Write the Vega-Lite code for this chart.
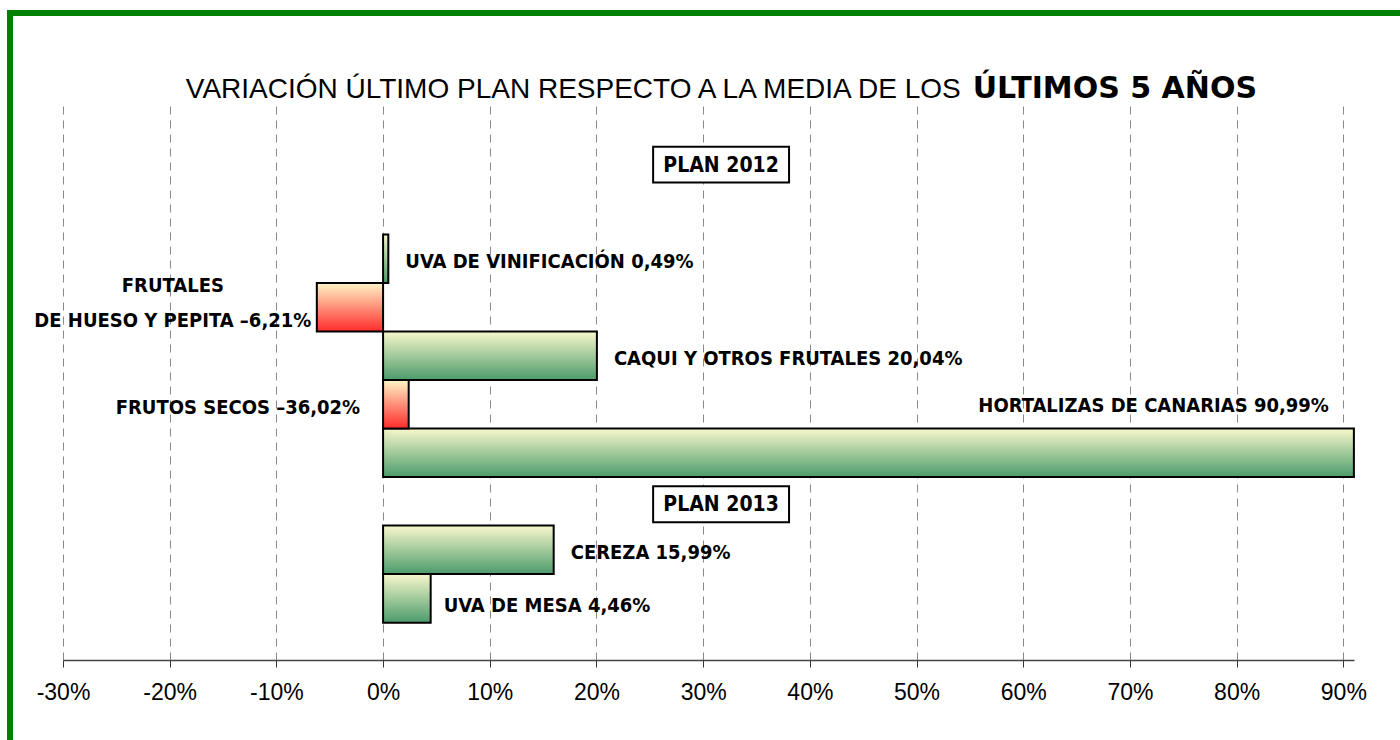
{
  "$schema": "https://vega.github.io/schema/vega-lite/v6.json",
  "width": 1291,
  "height": 560,
  "autosize": {"type": "none"},
  "padding": {"left": 63, "top": 100, "right": 46, "bottom": 80},
  "background": "white",
  "config": {"view": {"stroke": null}, "font": "Liberation Sans"},
  "datasets": {
    "cultivos": [
      {"cultivo": "UVA DE VINIFICACIÓN", "plan": "PLAN 2012", "variacion": 0.49, "barra": 0.49, "etiqueta": "UVA DE VINIFICACIÓN 0,49%"},
      {"cultivo": "FRUTALES DE HUESO Y PEPITA", "plan": "PLAN 2012", "variacion": -6.21, "barra": -6.21, "etiqueta": "FRUTALES\nDE HUESO Y PEPITA –6,21%"},
      {"cultivo": "CAQUI Y OTROS FRUTALES", "plan": "PLAN 2012", "variacion": 20.04, "barra": 20.04, "etiqueta": "CAQUI Y OTROS FRUTALES 20,04%"},
      {"cultivo": "FRUTOS SECOS", "plan": "PLAN 2012", "variacion": -36.02, "barra": 2.4, "etiqueta": "FRUTOS SECOS –36,02%"},
      {"cultivo": "HORTALIZAS DE CANARIAS", "plan": "PLAN 2012", "variacion": 90.99, "barra": 90.99, "etiqueta": "HORTALIZAS DE CANARIAS 90,99%"},
      {"cultivo": "CEREZA", "plan": "PLAN 2013", "variacion": 15.99, "barra": 15.99, "etiqueta": "CEREZA 15,99%"},
      {"cultivo": "UVA DE MESA", "plan": "PLAN 2013", "variacion": 4.46, "barra": 4.46, "etiqueta": "UVA DE MESA 4,46%"}
    ],
    "planes": [{"plan": "PLAN 2012"}, {"plan": "PLAN 2013"}],
    "titulo": [{"titulo": "VARIACIÓN ÚLTIMO PLAN RESPECTO A LA MEDIA DE LOS", "destacado": "ÚLTIMOS 5 AÑOS"}]
  },
  "resolve": {"scale": {"y": "independent"}},
  "layer": [
    {
      "layer": [
        {
          "data": {"name": "cultivos"},
          "transform": [{"filter": "datum.variacion >= 0"}],
          "mark": {"type": "bar", "stroke": "#000", "strokeWidth": 2,
            "fill": {"gradient": "linear", "x1": 0, "y1": 0, "x2": 0, "y2": 1,
              "stops": [{"offset": 0, "color": "#f8f8cc"}, {"offset": 1, "color": "#4b9b6b"}]}},
          "encoding": {
            "y": {"field": "cultivo", "type": "nominal", "axis": null,
              "scale": {"domain": ["PLAN 2012", "_esp", "UVA DE VINIFICACIÓN", "FRUTALES DE HUESO Y PEPITA", "CAQUI Y OTROS FRUTALES", "FRUTOS SECOS", "HORTALIZAS DE CANARIAS", "PLAN 2013", "CEREZA", "UVA DE MESA"], "paddingInner": 0, "paddingOuter": 0.77}},
            "x": {"field": "barra", "type": "quantitative",
              "scale": {"domain": [-30, 91], "nice": false, "zero": false},
              "axis": {"values": [-30, -20, -10, 0, 10, 20, 30, 40, 50, 60, 70, 80, 90],
                "labelExpr": "datum.value + '%'", "title": null,
                "grid": true, "gridDash": [8, 6], "gridColor": "#8a8a8a", "gridWidth": 1,
                "domainColor": "#444", "domainWidth": 1.5, "tickColor": "#333", "tickSize": 7,
                "labelFontSize": 23, "labelFont": "Liberation Sans", "labelColor": "#000",
                "labelPadding": 14, "labelFlush": false, "labelOverlap": false}}
          }
        },
        {
          "data": {"name": "cultivos"},
          "transform": [{"filter": "datum.variacion < 0"}],
          "mark": {"type": "bar", "stroke": "#000", "strokeWidth": 2,
            "fill": {"gradient": "linear", "x1": 0, "y1": 0, "x2": 0, "y2": 1,
              "stops": [{"offset": 0, "color": "#fff5c6"}, {"offset": 1, "color": "#ff2b2b"}]}},
          "encoding": {
            "y": {"field": "cultivo", "type": "nominal", "axis": null,
              "scale": {"domain": ["PLAN 2012", "_esp", "UVA DE VINIFICACIÓN", "FRUTALES DE HUESO Y PEPITA", "CAQUI Y OTROS FRUTALES", "FRUTOS SECOS", "HORTALIZAS DE CANARIAS", "PLAN 2013", "CEREZA", "UVA DE MESA"], "paddingInner": 0, "paddingOuter": 0.77}},
            "x": {"field": "barra", "type": "quantitative"}
          }
        },
        {
          "data": {"name": "cultivos"},
          "transform": [{"filter": "indexof(['UVA DE VINIFICACIÓN','CAQUI Y OTROS FRUTALES','CEREZA'], datum.cultivo) >= 0"}],
          "mark": {"type": "text", "align": "left", "baseline": "middle", "dx": 17, "dy": 3,
            "font": "DejaVu Sans Condensed, Roboto, sans-serif", "fontWeight": "bold", "fontSize": 20, "color": "#000"},
          "encoding": {
            "y": {"field": "cultivo", "type": "nominal"},
            "x": {"field": "barra", "type": "quantitative"},
            "text": {"field": "etiqueta"}
          }
        },
        {
          "data": {"name": "cultivos"},
          "transform": [{"filter": "datum.cultivo == 'UVA DE MESA'"}],
          "mark": {"type": "text", "align": "left", "baseline": "middle", "dx": 13, "dy": 8,
            "font": "DejaVu Sans Condensed, Roboto, sans-serif", "fontWeight": "bold", "fontSize": 20, "color": "#000"},
          "encoding": {
            "y": {"field": "cultivo", "type": "nominal"},
            "x": {"field": "barra", "type": "quantitative"},
            "text": {"field": "etiqueta"}
          }
        },
        {
          "data": {"name": "cultivos"},
          "transform": [{"filter": "datum.cultivo == 'HORTALIZAS DE CANARIAS'"}],
          "mark": {"type": "text", "align": "right", "baseline": "middle", "dx": -25, "dy": -47,
            "font": "DejaVu Sans Condensed, Roboto, sans-serif", "fontWeight": "bold", "fontSize": 20, "color": "#000"},
          "encoding": {
            "y": {"field": "cultivo", "type": "nominal"},
            "x": {"field": "barra", "type": "quantitative"},
            "text": {"field": "etiqueta"}
          }
        },
        {
          "data": {"name": "cultivos"},
          "transform": [{"filter": "datum.cultivo == 'FRUTOS SECOS'"}],
          "mark": {"type": "text", "align": "right", "baseline": "middle", "dx": -23, "dy": 4,
            "font": "DejaVu Sans Condensed, Roboto, sans-serif", "fontWeight": "bold", "fontSize": 20, "color": "#000"},
          "encoding": {
            "y": {"field": "cultivo", "type": "nominal"},
            "x": {"datum": 0, "type": "quantitative"},
            "text": {"field": "etiqueta"}
          }
        },
        {
          "data": {"name": "cultivos"},
          "transform": [{"filter": "datum.cultivo == 'FRUTALES DE HUESO Y PEPITA'"}],
          "mark": {"type": "text", "align": "center", "baseline": "middle", "dx": -144, "dy": -21,
            "lineBreak": "\n", "lineHeight": 35,
            "font": "DejaVu Sans Condensed, Roboto, sans-serif", "fontWeight": "bold", "fontSize": 20, "color": "#000"},
          "encoding": {
            "y": {"field": "cultivo", "type": "nominal"},
            "x": {"field": "barra", "type": "quantitative"},
            "text": {"field": "etiqueta"}
          }
        },
        {
          "data": {"name": "planes"},
          "mark": {"type": "bar", "fill": "#fff", "stroke": "#000", "strokeWidth": 2, "height": {"band": 0.74}, "yOffset": 3},
          "encoding": {
            "y": {"field": "plan", "type": "nominal"},
            "x": {"datum": 25.31, "type": "quantitative"},
            "x2": {"datum": 38.05}
          }
        },
        {
          "data": {"name": "planes"},
          "mark": {"type": "text", "align": "center", "baseline": "middle", "dy": 4,
            "font": "DejaVu Sans Condensed, Roboto, sans-serif", "fontWeight": "bold", "fontSize": 21, "color": "#000"},
          "encoding": {
            "y": {"field": "plan", "type": "nominal"},
            "x": {"datum": 31.68, "type": "quantitative"},
            "text": {"field": "plan"}
          }
        }
      ]
    },
    {
      "data": {"name": "titulo"},
      "layer": [
        {
          "mark": {"type": "rect", "fillOpacity": 0, "stroke": "#008000", "strokeWidth": 6},
          "encoding": {
            "x": {"datum": -34.97, "type": "quantitative"},
            "x2": {"datum": 96.5},
            "y": {"datum": 647, "type": "quantitative", "axis": null,
              "scale": {"domain": [0, 560], "nice": false, "zero": false}},
            "y2": {"datum": -100}
          }
        },
        {
          "mark": {"type": "text", "align": "right", "baseline": "alphabetic", "dx": -6,
            "font": "Liberation Sans", "fontSize": 28, "color": "#000"},
          "encoding": {
            "x": {"datum": 54.7, "type": "quantitative"},
            "y": {"datum": 562, "type": "quantitative"},
            "text": {"field": "titulo"}
          }
        },
        {
          "mark": {"type": "text", "align": "left", "baseline": "alphabetic", "dx": 6,
            "font": "DejaVu Sans", "fontWeight": "bold", "fontSize": 30, "color": "#000"},
          "encoding": {
            "x": {"datum": 54.7, "type": "quantitative"},
            "y": {"datum": 562, "type": "quantitative"},
            "text": {"field": "destacado"}
          }
        }
      ]
    }
  ]
}
